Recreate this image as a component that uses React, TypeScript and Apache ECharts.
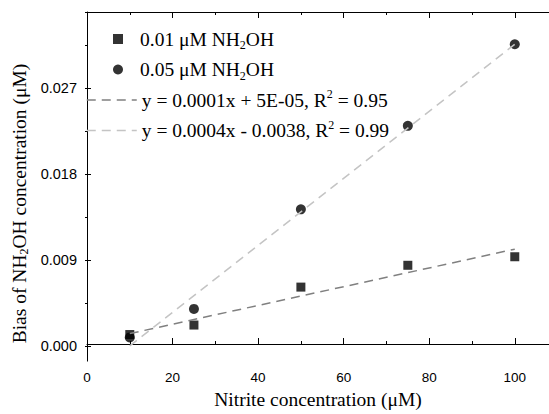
import React, { useEffect, useRef } from "react";
import * as echarts from "echarts";

const nitrite = [10, 25, 50, 75, 100];
const bias001 = [0.001, 0.002, 0.006, 0.0083, 0.0092];
const bias005 = [0.0007, 0.0037, 0.0142, 0.023, 0.0316];
const fitX = [10, 100];
const fit001 = [0.0011, 0.01];
const fit005 = [-0.0002, 0.0316];

const nameS1 = "0.01 μM NH{sub|2}OH";
const nameS2 = "0.05 μM NH{sub|2}OH";
const nameF1 = "y = 0.0001x + 5E-05, R{sup|2} = 0.95";
const nameF2 = "y = 0.0004x - 0.0038, R{sup|2} = 0.99";

const SERIF = "Liberation Serif";
const SANS = "Liberation Sans";

const richStyles = {
  sub: { fontSize: 12, lineHeight: 12, verticalAlign: "bottom", fontFamily: SERIF, color: "#000" },
  sup: { fontSize: 12, lineHeight: 12, verticalAlign: "top", fontFamily: SERIF, color: "#000" },
  pad: { width: 34 },
};

export default function App() {
  const ref = useRef<HTMLDivElement>(null);
  useEffect(() => {
    if (!ref.current) return;
    const chart = echarts.init(ref.current, undefined, { renderer: "svg" });
    const pair = (xs: number[], ys: number[]) => xs.map((x, i) => [x, ys[i]]);
    const legendText = {
      fontFamily: SERIF,
      fontSize: 19.5,
      color: "#000",
      lineHeight: 24,
      rich: richStyles,
    };
    chart.setOption({
      animation: false,
      backgroundColor: "#fff",
      grid: [
        { left: 85, right: 0, top: 12, bottom: 51 },
        { left: 85, right: 0, top: 12, bottom: 68 },
      ],
      legend: [
        {
          data: [
            { name: nameS1, icon: "rect" },
            { name: nameS2, icon: "circle" },
          ],
          orient: "vertical",
          left: 113,
          top: 27,
          itemWidth: 10,
          itemHeight: 10,
          itemGap: 6.5,
          padding: 0,
          textStyle: { ...legendText, padding: [0, 0, 0, 12] },
          selectedMode: false,
        },
        {
          data: [{ name: nameF1 }, { name: nameF2 }],
          orient: "vertical",
          left: 86,
          top: 88,
          itemWidth: 50,
          itemHeight: 10,
          itemGap: 6.5,
          padding: 0,
          textStyle: legendText,
          itemStyle: { color: "rgba(0,0,0,0)", borderColor: "rgba(0,0,0,0)", borderWidth: 0, opacity: 0 },
          lineStyle: { type: [9, 6], width: 1.5 },
          selectedMode: false,
        },
      ],
      xAxis: [
        {
          gridIndex: 0,
          type: "value",
          min: 0,
          max: 108,
          interval: 20,
          position: "bottom",
          axisLine: { show: true, lineStyle: { color: "#000", width: 1 } },
          axisTick: { show: true, inside: true, length: 6, lineStyle: { color: "#000" } },
          minorTick: { show: true, splitNumber: 2, length: 3, lineStyle: { color: "#000" } },
          axisLabel: {
            show: true,
            margin: 9,
            fontFamily: SANS,
            fontSize: 13.5,
            color: "#000",
            showMaxLabel: false,
          },
          splitLine: { show: false },
          name: "Nitrite concentration (μM)",
          nameLocation: "middle",
          nameGap: 23,
          nameTextStyle: { fontFamily: SERIF, fontSize: 19.5, color: "#000" },
        },
        {
          gridIndex: 0,
          type: "value",
          min: 0,
          max: 108,
          interval: 20,
          position: "top",
          axisLine: { show: true, lineStyle: { color: "#000", width: 1 } },
          axisTick: { show: true, inside: true, length: 6, lineStyle: { color: "#000" } },
          minorTick: { show: true, splitNumber: 2, length: 3, lineStyle: { color: "#000" } },
          axisLabel: { show: false },
          splitLine: { show: false },
        },
        {
          gridIndex: 1,
          type: "value",
          min: 0,
          max: 108,
          show: false,
        },
      ],
      yAxis: [
        {
          gridIndex: 0,
          type: "value",
          min: -0.0018,
          max: 0.035,
          axisLine: { show: true, lineStyle: { color: "#000", width: 1 } },
          axisTick: { show: false },
          axisLabel: { show: false },
          splitLine: { show: false },
          name: "Bias of NH{sub|2}OH concentration (μM){pad|}",
          nameLocation: "middle",
          nameRotate: 90,
          nameGap: 57,
          nameTextStyle: {
            fontFamily: SERIF,
            fontSize: 19.5,
            color: "#000",
            lineHeight: 22,
            rich: richStyles,
          },
        },
        {
          gridIndex: 1,
          type: "value",
          min: 0,
          max: 0.035,
          interval: 0.009,
          axisLine: { show: false },
          axisTick: { show: true, inside: true, length: 6, lineStyle: { color: "#000" } },
          minorTick: { show: true, splitNumber: 2, length: 3, lineStyle: { color: "#000" } },
          axisLabel: {
            show: true,
            margin: 8,
            fontFamily: SANS,
            fontSize: 14.5,
            color: "#000",
            showMaxLabel: false,
            formatter: (v: number) => v.toFixed(3),
          },
          splitLine: { show: false },
        },
      ],
      series: [
        {
          name: nameS1,
          type: "scatter",
          xAxisIndex: 0,
          yAxisIndex: 0,
          symbol: "rect",
          symbolSize: 9,
          itemStyle: { color: "#000" },
          data: pair(nitrite, bias001),
          z: 2,
        },
        {
          name: nameS2,
          type: "scatter",
          xAxisIndex: 0,
          yAxisIndex: 0,
          symbol: "circle",
          symbolSize: 10,
          itemStyle: { color: "#000" },
          data: pair(nitrite, bias005),
          z: 2,
        },
        {
          name: nameF1,
          type: "line",
          xAxisIndex: 0,
          yAxisIndex: 0,
          symbol: "none",
          showSymbol: false,
          lineStyle: { color: "#808080", width: 1.5, type: [9, 6] },
          itemStyle: { color: "#808080" },
          data: pair(fitX, fit001),
          z: 3,
        },
        {
          name: nameF2,
          type: "line",
          xAxisIndex: 0,
          yAxisIndex: 0,
          symbol: "none",
          showSymbol: false,
          lineStyle: { color: "#c4c4c4", width: 1.5, type: [9, 6] },
          itemStyle: { color: "#c4c4c4" },
          data: pair(fitX, fit005),
          z: 3,
        },
      ],
    });
    return () => chart.dispose();
  }, []);
  return (
    <div
      ref={ref}
      style={{ position: "fixed", left: 0, top: 0, width: 549, height: 414, background: "#fff" }}
    />
  );
}
